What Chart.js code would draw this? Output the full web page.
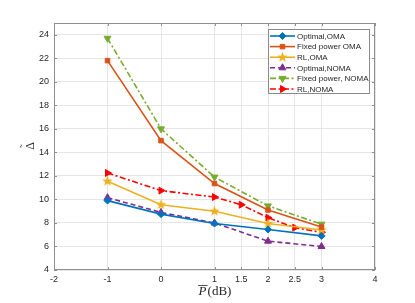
<!DOCTYPE html>
<html lang="en">
<head>
  <meta charset="UTF-8">
  <title>Delta vs P (dB)</title>
  <script src="https://cdn.jsdelivr.net/npm/chart.js"></script>
  <style>
    html, body {
      margin: 0;
      padding: 0;
      background: #ffffff;
    }
    .chart-box {
      width: 415px;
      height: 303px;
    }
  </style>
</head>
<body>
  <div class="chart-box"><canvas id="chart" width="415" height="303"></canvas></div>

  <script>
    // data
    const xMain = [-1, 0, 1, 2, 3];
    const xRlNoma = [-1, 0, 1, 1.5, 2, 2.5, 3];
    const optimalOma = [9.9, 8.75, 7.95, 7.45, 6.9];
    const fixedOma = [21.8, 15.0, 11.35, 9.1, 7.65];
    const rlOma = [11.55, 9.55, 9.0, 7.95, 7.4];
    const optimalNoma = [10.15, 8.9, 8.0, 6.45, 6.0];
    const fixedNoma = [23.7, 16.0, 11.9, 9.45, 7.9];
    const rlNoma = [12.25, 10.75, 10.2, 9.55, 8.45, 7.6, 7.2];

    const xTicks = [-2, -1, 0, 1, 1.5, 2, 2.5, 3, 4];
    const yTicks = [4, 6, 8, 10, 12, 14, 16, 18, 20, 22, 24];

    function pts(xs, ys) {
      return xs.map(function (x, i) { return { x: x, y: ys[i] }; });
    }

    // filled five point star (matlab pentagram)
    function makeStar(color, r) {
      const c = document.createElement('canvas');
      const s = Math.ceil(r * 2 + 2);
      c.width = s; c.height = s;
      const g = c.getContext('2d');
      g.beginPath();
      for (let k = 0; k < 10; k++) {
        const rr = k % 2 === 0 ? r : r * 0.42;
        const a = -Math.PI / 2 + k * Math.PI / 5;
        const px = s / 2 + rr * Math.cos(a);
        const py = s / 2 + rr * Math.sin(a);
        if (k === 0) g.moveTo(px, py); else g.lineTo(px, py);
      }
      g.closePath();
      g.fillStyle = color;
      g.fill();
      return c;
    }
    const starImg = makeStar('#EDB120', 5.5);

    const series = [
      { label: 'Optimal,OMA', xs: xMain, ys: optimalOma, color: '#0072BD', dash: [], style: 'rectRot', rot: 0, r: 3.5 },
      { label: 'Fixed power OMA', xs: xMain, ys: fixedOma, color: '#D95319', dash: [], style: 'rect', rot: 0, r: 3.2 },
      { label: 'RL,OMA', xs: xMain, ys: rlOma, color: '#EDB120', dash: [], style: starImg, rot: 0, r: 5 },
      { label: 'Optimal,NOMA', xs: xMain, ys: optimalNoma, color: '#7E2F8E', dash: [5, 3], style: 'triangle', rot: 0, r: 4 },
      { label: 'Fixed power, NOMA', xs: xMain, ys: fixedNoma, color: '#77AC30', dash: [6, 2.5, 2, 2.5], style: 'triangle', rot: 180, r: 4 },
      { label: 'RL,NOMA', xs: xRlNoma, ys: rlNoma, color: '#FF0000', dash: [6, 2.5, 2, 2.5], style: 'triangle', rot: 90, r: 4 }
    ];

    const datasets = series.map(function (s) {
      return {
        label: s.label,
        data: pts(s.xs, s.ys),
        borderColor: s.color,
        backgroundColor: s.color,
        borderWidth: 1.6,
        borderDash: s.dash,
        pointStyle: s.style,
        rotation: s.rot,
        pointRadius: s.r,
        pointBorderWidth: 1,
        pointBorderColor: s.color,
        pointBackgroundColor: s.color,
        fill: false,
        tension: 0
      };
    });

    // box, legend and axis labels drawn the matlab way
    const matlabBits = {
      id: 'matlabBits',
      afterDraw: function (chart) {
        const ctx = chart.ctx;
        const a = chart.chartArea;
        ctx.save();

        // axes box
        ctx.strokeStyle = '#8f8f8f';
        ctx.lineWidth = 1;
        ctx.setLineDash([]);
        ctx.strokeRect(a.left + 0.5, a.top + 0.5, a.right - a.left - 1, a.bottom - a.top - 1);

        // inward ticks
        const xs = chart.scales.x, ys = chart.scales.y;
        ctx.beginPath();
        xTicks.forEach(function (v) {
          const px = Math.round(xs.getPixelForValue(v)) + 0.5;
          ctx.moveTo(px, a.bottom); ctx.lineTo(px, a.bottom - 3);
          ctx.moveTo(px, a.top); ctx.lineTo(px, a.top + 3);
        });
        yTicks.forEach(function (v) {
          const py = Math.round(ys.getPixelForValue(v)) + 0.5;
          ctx.moveTo(a.left, py); ctx.lineTo(a.left + 3, py);
          ctx.moveTo(a.right, py); ctx.lineTo(a.right - 3, py);
        });
        ctx.stroke();

        // legend
        const lx = 268, ly = 29, lw = 101, lh = 64;
        ctx.fillStyle = '#ffffff';
        ctx.fillRect(lx, ly, lw, lh);
        ctx.strokeStyle = '#8a8a8a';
        ctx.strokeRect(lx + 0.5, ly + 0.5, lw, lh);
        ctx.font = '8px "Liberation Sans", Arial, sans-serif';
        ctx.textBaseline = 'middle';
        ctx.textAlign = 'left';
        series.forEach(function (s, i) {
          const cy = 36 + i * 10.6;
          ctx.strokeStyle = s.color;
          ctx.fillStyle = s.color;
          ctx.lineWidth = 1.6;
          ctx.setLineDash(s.dash);
          ctx.beginPath();
          ctx.moveTo(270, cy); ctx.lineTo(295, cy);
          ctx.stroke();
          ctx.setLineDash([]);
          ctx.lineWidth = 1;
          Chart.helpers.drawPoint(ctx, {
            pointStyle: s.style, rotation: s.rot, radius: s.r, borderWidth: 1
          }, 282.5, cy);
          ctx.fillStyle = '#262626';
          ctx.fillText(s.label, 297, cy + 0.5);
        });

        // y label: delta with a tilde on top, turned a quarter left
        ctx.fillStyle = '#262626';
        ctx.save();
        ctx.setTransform(0, -1, 1, 0, 31, 146);
        ctx.textAlign = 'center';
        ctx.textBaseline = 'middle';
        ctx.font = '12px "Liberation Serif", "DejaVu Serif", serif';
        ctx.fillText('\u0394', 0, 0);
        ctx.font = '10px "Liberation Serif", "DejaVu Serif", serif';
        ctx.fillText('\u02DC', 0, -6);
        ctx.restore();

        // x label: P with overline then (dB)
        const cx = (a.left + a.right) / 2;
        ctx.font = 'italic 13px "Liberation Serif", serif';
        const wP = ctx.measureText('P').width;
        ctx.font = '13px "Liberation Serif", serif';
        const wRest = ctx.measureText('(dB)').width;
        const x0 = cx - (wP + wRest) / 2;
        const by = 292;
        ctx.textAlign = 'left';
        ctx.textBaseline = 'middle';
        ctx.font = 'italic 13px "Liberation Serif", serif';
        ctx.fillText('P', x0, by);
        ctx.font = '13px "Liberation Serif", serif';
        ctx.fillText('(dB)', x0 + wP + 1, by);
        ctx.strokeStyle = '#262626';
        ctx.lineWidth = 0.8;
        ctx.beginPath();
        ctx.moveTo(x0 - 0.5, by - 6.5);
        ctx.lineTo(x0 + wP + 1, by - 6.5);
        ctx.stroke();

        ctx.restore();
      }
    };

    const ctx = document.getElementById('chart').getContext('2d');
    new Chart(ctx, {
      type: 'line',
      data: { datasets: datasets },
      options: {
        responsive: false,
        animation: false,
        maintainAspectRatio: false,
        layout: { padding: { left: 0, right: 40, top: 23, bottom: 0 } },
        plugins: {
          legend: { display: false },
          tooltip: { enabled: false }
        },
        scales: {
          x: {
            type: 'linear',
            min: -2,
            max: 4,
            afterBuildTicks: function (scale) {
              scale.ticks = xTicks.map(function (v) { return { value: v }; });
            },
            afterFit: function (scale) { scale.height = 33; },
            grid: { color: '#e6e6e6', drawTicks: false },
            border: { display: false },
            ticks: {
              color: '#262626',
              font: { family: '"Liberation Sans", Arial, sans-serif', size: 9 },
              padding: 4,
              maxRotation: 0,
              autoSkip: false,
              callback: function (v) { return String(v); }
            }
          },
          y: {
            min: 4,
            max: 25,
            afterBuildTicks: function (scale) {
              scale.ticks = yTicks.map(function (v) { return { value: v }; });
            },
            afterFit: function (scale) { scale.width = 54; },
            grid: { color: '#e6e6e6', drawTicks: false },
            border: { display: false },
            ticks: {
              color: '#262626',
              font: { family: '"Liberation Sans", Arial, sans-serif', size: 9 },
              padding: 5,
              autoSkip: false
            }
          }
        }
      },
      plugins: [matlabBits]
    });
  </script>
</body>
</html>
